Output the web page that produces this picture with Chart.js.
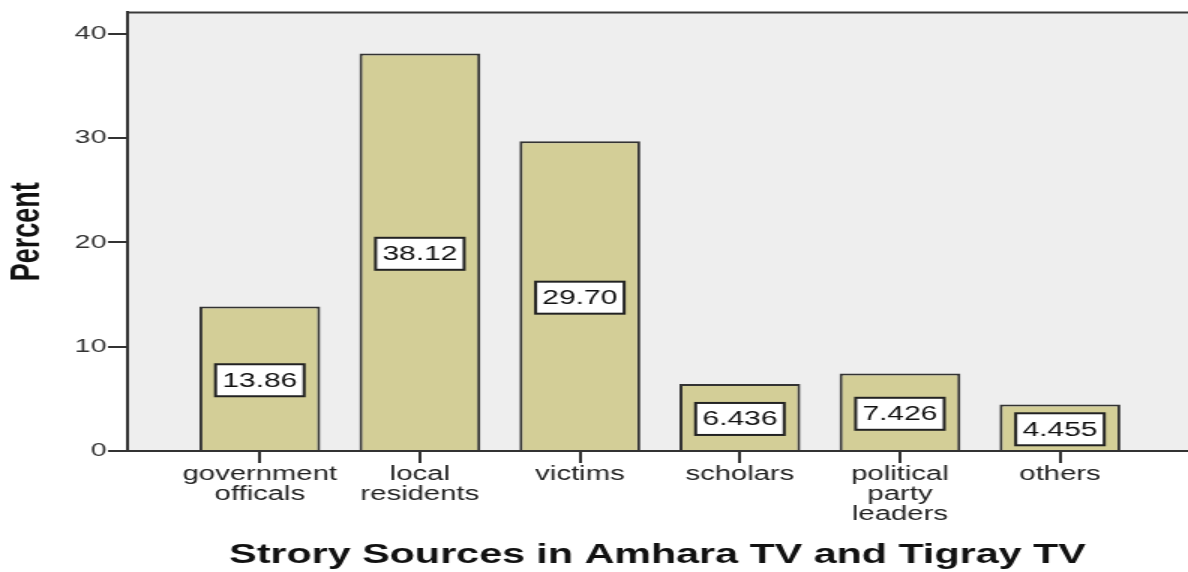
<!DOCTYPE html>
<html>
<head>
<meta charset="utf-8">
<script src="https://cdn.jsdelivr.net/npm/chart.js@4"></script>
<style>
  body { margin: 0; background: #fff; }
</style>
</head>
<body>
<!-- chart is drawn narrow and stretched sideways, like the source image -->
<canvas id="chart" width="792" height="572" style="display:block;width:1188px;height:572px"></canvas>
<script>
// data
var categories = [['government', 'officals'], ['local', 'residents'], ['victims'], ['scholars'], ['political', 'party', 'leaders'], ['others']];
var percents = [13.86, 38.12, 29.70, 6.436, 7.426, 4.455];
var valueLabels = ['13.86', '38.12', '29.70', '6.436', '7.426', '4.455'];
var yTicks = [0, 10, 20, 30, 40];

Chart.defaults.font.family = "'Liberation Sans', Arial, sans-serif";
Chart.defaults.color = '#333';

var points = percents.map(function (v, i) { return { x: i, y: v }; });

// grey plot area + top frame line
var plotBg = {
  id: 'plotBg',
  beforeDraw: function (chart) {
    var c = chart.ctx, a = chart.chartArea;
    c.save();
    c.fillStyle = '#fff';
    c.fillRect(0, 0, chart.width, chart.height);
    c.fillStyle = '#eeeeee';
    c.fillRect(a.left, a.top, a.right - a.left, a.bottom - a.top);
    c.strokeStyle = '#3a3a3a';
    c.lineWidth = 2;
    c.beginPath();
    c.moveTo(a.left, a.top);
    c.lineTo(a.right, a.top);
    c.stroke();
    c.restore();
  }
};

// boxed value labels in the middle of each bar
var boxLabels = {
  id: 'boxLabels',
  afterDatasetsDraw: function (chart) {
    var c = chart.ctx;
    var meta = chart.getDatasetMeta(0);
    c.save();
    c.font = "20px 'Liberation Sans', Arial, sans-serif";
    c.textAlign = 'center';
    c.textBaseline = 'middle';
    meta.data.forEach(function (bar, i) {
      var txt = valueLabels[i];
      var w = c.measureText(txt).width + 9;
      var h = 32;
      var cy = (bar.y + bar.base) / 2 + 2;
      c.fillStyle = '#fff';
      c.fillRect(bar.x - w / 2, cy - h / 2, w, h);
      c.strokeStyle = '#222';
      c.lineWidth = 2;
      c.strokeRect(bar.x - w / 2, cy - h / 2, w, h);
      c.fillStyle = '#111';
      c.fillText(txt, bar.x, cy + 1);
    });
    c.restore();
  }
};

var ctx = document.getElementById('chart').getContext('2d');
var myChart = new Chart(ctx, {
  type: 'bar',
  data: {
    datasets: [{
      label: 'Percent',
      data: points,
      backgroundColor: '#d3ce97',
      borderColor: '#333',
      borderWidth: 2,
      barPercentage: 0.755,
      categoryPercentage: 1
    }]
  },
  options: {
    responsive: false,
    devicePixelRatio: 1,
    animation: false,
    layout: { padding: { top: 11, right: 0, left: 0, bottom: 0 } },
    plugins: {
      legend: { display: false },
      tooltip: { enabled: false }
    },
    scales: {
      x: {
        type: 'linear',
        min: -0.83,
        max: 5.8,
        offset: false,
        grid: { offset: false, drawOnChartArea: false, color: '#333', lineWidth: 2, tickLength: 12 },
        border: { color: '#333', width: 2 },
        ticks: {
          stepSize: 1,
          includeBounds: false,
          autoSkip: false,
          maxRotation: 0,
          padding: 2,
          color: '#222',
          font: { size: 19.5, lineHeight: '20px' },
          callback: function (v) { return categories[v] || ''; }
        },
        title: {
          display: true,
          text: 'Strory Sources in Amhara TV and Tigray TV',
          color: '#111',
          font: { size: 27.5, weight: 'bold', lineHeight: 1.2 },
          padding: { top: 0, bottom: 0.5 }
        },
        afterFit: function (s) { s.height = 121; }
      },
      y: {
        min: 0,
        max: 42.07,
        grid: { drawOnChartArea: false, color: '#333', lineWidth: 2, tickLength: 12.7 },
        border: { color: '#333', width: 2 },
        afterBuildTicks: function (s) { s.ticks = yTicks.map(function (v) { return { value: v }; }); },
        ticks: {
          padding: 1,
          color: '#333',
          font: { size: 19 }
        },
        title: {
          display: true,
          text: 'Percent',
          color: '#111',
          font: { size: 27, weight: 'bold', lineHeight: 1.2 },
          padding: { top: 2, bottom: 0 }
        },
        afterFit: function (s) { s.width = 84.67; }
      }
    }
  },
  plugins: [plotBg, boxLabels]
});
</script>
</body>
</html>
